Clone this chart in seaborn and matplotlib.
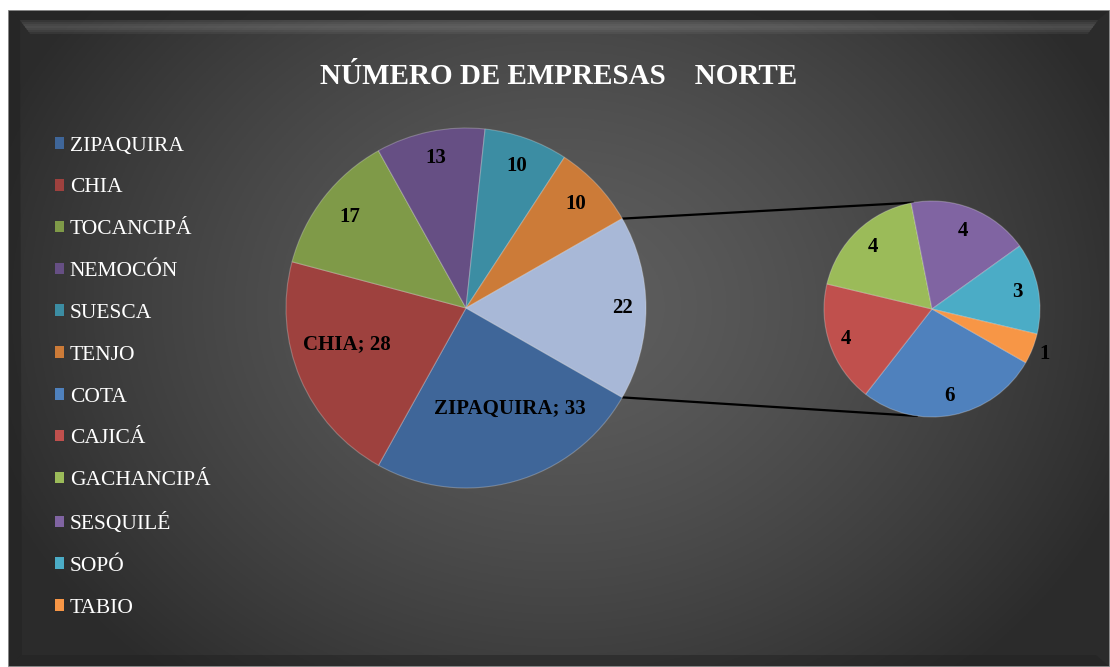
import numpy as np
import matplotlib
matplotlib.use("Agg")
import matplotlib.pyplot as plt
import seaborn as sns
from matplotlib.patches import Patch, Rectangle, Polygon

# ---- data ----
main_labels = ["ZIPAQUIRA", "CHIA", "TOCANCIPÁ", "NEMOCÓN", "SUESCA", "TENJO"]
main_values = [33, 28, 17, 13, 10, 10]
sub_labels = ["COTA", "CAJICÁ", "GACHANCIPÁ", "SESQUILÉ", "SOPÓ", "TABIO"]
sub_values = [6, 4, 4, 4, 3, 1]
title = "NÚMERO DE EMPRESAS    NORTE"

main_colors = ["#3F6699", "#9E413E", "#7F9A48", "#664F84", "#3C8DA3", "#CC7B38"]
other_color = "#A8B8D7"
sub_colors = ["#4F81BD", "#C0504D", "#9BBB59", "#8064A2", "#4BACC6", "#F79646"]

sns.set_theme(style="dark")
plt.rcParams["font.family"] = ["Liberation Serif", "DejaVu Serif"]

W, H = 1110, 667
fig = plt.figure(figsize=(W / 100, H / 100), dpi=100, facecolor="white")

# ---- background panel (pixel coordinates, y down) ----
x0p, y0p = 8, 10
bg = fig.add_axes([x0p / W, 0, 1 - x0p / W, (H - y0p) / H])
bg.set_axis_off()
pw, ph = W - x0p, H - y0p
ny, nx = 300, 500
yy, xx = np.mgrid[0:ny, 0:nx]
cx, cy = nx * 0.5, ny * 0.45
d = np.sqrt(((xx - cx) / (nx * 0.55)) ** 2 + ((yy - cy) / (ny * 0.75)) ** 2)
d = np.clip(d, 0, 1)
light, dark = 0.37, 0.17
v = light - (light - dark) * d ** 1.4
img = np.dstack([v, v, v])
bg.imshow(img, aspect="auto", extent=[0, pw, ph, 0])
bg.set_xlim(0, pw)
bg.set_ylim(ph, 0)
# bevel: dark outer rim, then a lighter band along the top
bg.add_patch(Polygon([(0, 0), (pw, 0), (pw - 12, 10), (12, 10)], closed=True,
                     color="#262626", alpha=0.85, lw=0))
for i, a in enumerate([0.10, 0.18, 0.26, 0.30, 0.26, 0.18, 0.10]):
    y = 10 + i * 2
    bg.add_patch(Polygon([(12 + i * 1.5, y), (pw - 12 - i * 1.5, y),
                          (pw - 13 - i * 1.5, y + 2), (13 + i * 1.5, y + 2)],
                         closed=True, color="#9a9a9a", alpha=a, lw=0))
bg.add_patch(Polygon([(0, 0), (12, 10), (14, ph - 12), (0, ph)], closed=True,
                     color="#222222", alpha=0.55, lw=0))
bg.add_patch(Polygon([(0, ph), (pw, ph), (pw - 14, ph - 12), (14, ph - 12)], closed=True,
                     color="#222222", alpha=0.5, lw=0))
bg.add_patch(Rectangle((0, 0), pw, ph, fill=False, ec="#9a9a9a", lw=1.2))

# ---- pies on a pixel-coordinate axes ----
ax = fig.add_axes([0, 0, 1, 1])
ax.set_xlim(0, W)
ax.set_ylim(0, H)
ax.set_aspect("equal")
ax.set_axis_off()
ax.patch.set_alpha(0)

total = sum(main_values) + sum(sub_values)
start = -360 * (sum(sub_values) / total) / 2

main_c = (466, H - 308)
main_r = 180
wedges_main, _ = ax.pie(
    main_values + [sum(sub_values)],
    colors=main_colors + [other_color],
    startangle=start, counterclock=False,
    center=main_c, radius=main_r,
    wedgeprops=dict(edgecolor=(1, 1, 1, 0.25), linewidth=0.8),
    frame=True,
)

sub_c = (932, H - 309)
sub_r = 108
wedges_sub, _ = ax.pie(
    sub_values, colors=sub_colors,
    startangle=start, counterclock=False,
    center=sub_c, radius=sub_r,
    wedgeprops=dict(edgecolor=(1, 1, 1, 0.25), linewidth=0.8),
    frame=True,
)
ax.set_xlim(0, W)
ax.set_ylim(0, H)
ax.set_axis_off()

lab_font = dict(fontsize=15, fontweight="bold", color="black", ha="center", va="center")

def place(w, c, r, frac, text, dang=0):
    a = np.deg2rad((w.theta1 + w.theta2) / 2 + dang)
    ax.text(c[0] + frac * r * np.cos(a), c[1] + frac * r * np.sin(a), text, **lab_font)

main_fracs = [0.61, 0.69, 0.82, 0.85, 0.84, 0.84]
main_dang = [8, -6, 0, 0, 0, 0]
main_texts = [f"{main_labels[0]}; {main_values[0]}", f"{main_labels[1]}; {main_values[1]}"] + \
    [str(v) for v in main_values[2:]]
for w, f, t, da in zip(wedges_main[:-1], main_fracs, main_texts, main_dang):
    place(w, main_c, main_r, f, t, dang=da)
place(wedges_main[-1], main_c, main_r, 0.87, str(sum(sub_values)))

sub_fracs = [0.82, 0.84, 0.79, 0.78, 0.81, 1.12]
for w, f, v in zip(wedges_sub, sub_fracs, sub_values):
    place(w, sub_c, sub_r, f, str(v))

# connector lines
ow = wedges_main[-1]
for ang_main, ang_sub in [(ow.theta2, 100), (ow.theta1, -98)]:
    a1, a2 = np.deg2rad(ang_main), np.deg2rad(ang_sub)
    ax.plot([main_c[0] + main_r * np.cos(a1), sub_c[0] + sub_r * np.cos(a2)],
            [main_c[1] + main_r * np.sin(a1), sub_c[1] + sub_r * np.sin(a2)],
            color="black", lw=1.6, zorder=0.5)

# title
fig.text(559 / W, 1 - 76 / H, title, ha="center", va="center",
         fontsize=21, fontweight="bold", color="white")

# legend
handles = [Patch(facecolor=c, edgecolor="none") for c in main_colors + sub_colors]
leg = fig.legend(handles, main_labels + sub_labels, loc="upper left",
                 bbox_to_anchor=(46 / W, 1 - 128 / H), frameon=False,
                 fontsize=15.5, labelcolor="white", labelspacing=1.06,
                 handlelength=0.45, handleheight=0.45, handletextpad=0.25,
                 borderaxespad=0)

fig.savefig("out.png", dpi=100, facecolor="white")
